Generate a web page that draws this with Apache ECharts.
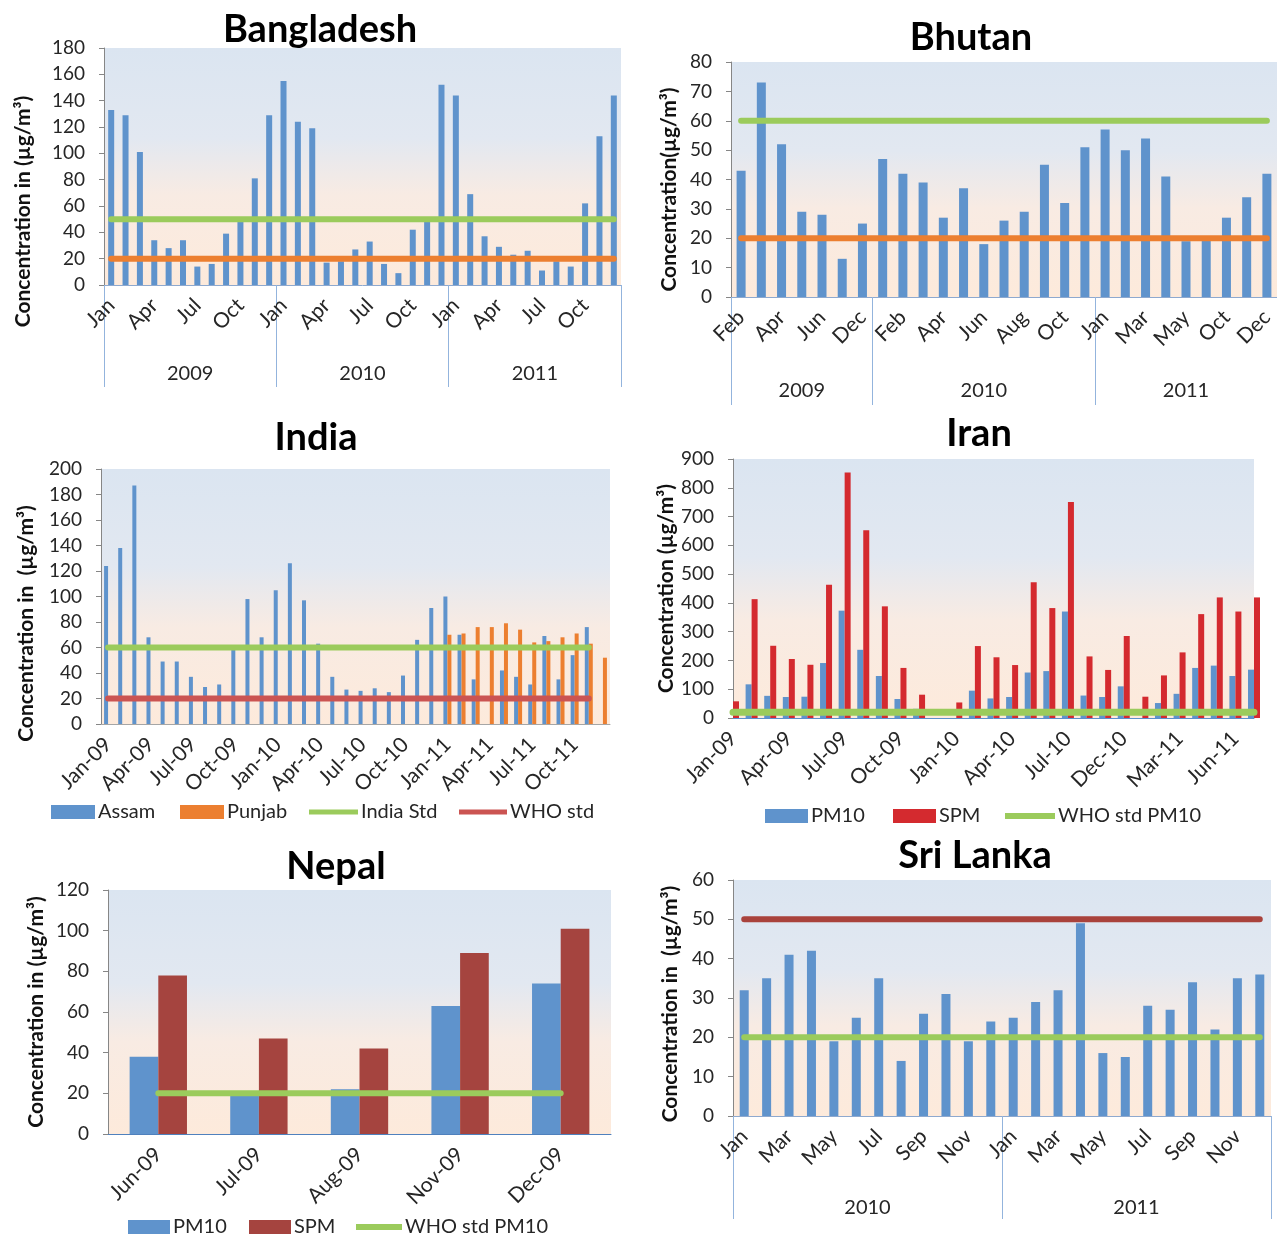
<!DOCTYPE html>
<html><head><meta charset="utf-8">
<script src="https://cdn.jsdelivr.net/npm/echarts@6/dist/echarts.min.js"></script>
<style>html,body{margin:0;padding:0;background:#fff}#c{width:1277px;height:1234px}</style>
</head><body><div id="c"></div>
<script>
// ---------------- DATA ----------------
const bdMonths = ['Jan','Feb','Mar','Apr','May','Jun','Jul','Aug','Sep','Oct','Nov','Dec','Jan','Feb','Mar','Apr','May','Jun','Jul','Aug','Sep','Oct','Nov','Dec','Jan','Feb','Mar','Apr','May','Jun','Jul','Aug','Sep','Oct','Nov','Dec'];
const bdYears = ['2009','2010','2011'];
const bdValues = [133,129,101,34,28,34,14,16,39,48,81,129,155,124,119,17,18,27,33,16,9,42,48,152,144,69,37,29,23,26,11,18,14,62,113,144];
const bdStdGreen = [50,50,50,50,50,50,50,50,50,50,50,50,50,50,50,50,50,50,50,50,50,50,50,50,50,50,50,50,50,50,50,50,50,50,50,50];
const bdStdOrange = [20,20,20,20,20,20,20,20,20,20,20,20,20,20,20,20,20,20,20,20,20,20,20,20,20,20,20,20,20,20,20,20,20,20,20,20];

const btMonths = ['Feb','Mar','Apr','May','Jun','Nov','Dec','Jan','Feb','Mar','Apr','May','Jun','Jul','Aug','Sep','Oct','Nov','Jan','Feb','Mar','Apr','May','Sep','Oct','Nov','Dec'];
const btYears = ['2009','2009','2009','2009','2009','2009','2009','2010','2010','2010','2010','2010','2010','2010','2010','2010','2010','2010','2011','2011','2011','2011','2011','2011','2011','2011','2011'];
const btValues = [43,73,52,29,28,13,25,47,42,39,27,37,18,26,29,45,32,51,57,50,54,41,19,20,27,34,42];
const btStdGreen = [60,60,60,60,60,60,60,60,60,60,60,60,60,60,60,60,60,60,60,60,60,60,60,60,60,60,60];
const btStdOrange = [20,20,20,20,20,20,20,20,20,20,20,20,20,20,20,20,20,20,20,20,20,20,20,20,20,20,20];

const inMonths = ['Jan-09','Feb-09','Mar-09','Apr-09','May-09','Jun-09','Jul-09','Aug-09','Sep-09','Oct-09','Nov-09','Dec-09','Jan-10','Feb-10','Mar-10','Apr-10','May-10','Jun-10','Jul-10','Aug-10','Sep-10','Oct-10','Nov-10','Dec-10','Jan-11','Feb-11','Mar-11','Apr-11','May-11','Jun-11','Jul-11','Aug-11','Sep-11','Oct-11','Nov-11','Dec-11'];
const inAssam = [124,138,187,68,49,49,37,29,31,59,98,68,105,126,97,63,37,27,26,28,25,38,66,91,100,70,35,null,42,37,31,69,35,54,76,null];
const inPunjab = [null,null,null,null,null,null,null,null,null,null,null,null,null,null,null,null,null,null,null,null,null,null,null,null,70,71,76,76,79,74,64,65,68,71,63,52];
const inIndiaStd = [60,60,60,60,60,60,60,60,60,60,60,60,60,60,60,60,60,60,60,60,60,60,60,60,60,60,60,60,60,60,60,60,60,60,60,null];
const inWhoStd = [20,20,20,20,20,20,20,20,20,20,20,20,20,20,20,20,20,20,20,20,20,20,20,20,20,20,20,20,20,20,20,20,20,20,20,null];

const irMonths = ['Jan-09','Feb-09','Mar-09','Apr-09','May-09','Jun-09','Jul-09','Aug-09','Sep-09','Oct-09','Nov-09','Dec-09','Jan-10','Feb-10','Mar-10','Apr-10','May-10','Jun-10','Jul-10','Oct-10','Nov-10','Dec-10','Jan-11','Feb-11','Mar-11','Apr-11','May-11','Jun-11','Jul-11'];
const irPM10 = [null,117,77,73,74,191,373,237,146,66,32,null,null,95,68,73,158,163,370,78,73,110,null,52,84,174,182,146,168];
const irSPM = [58,413,251,205,185,463,853,652,388,174,81,null,54,250,211,184,472,382,751,214,167,285,74,148,228,361,419,370,419];
const irWho = [20,20,20,20,20,20,20,20,20,20,20,20,20,20,20,20,20,20,20,20,20,20,20,20,20,20,20,20,20];

const npMonths = ['Jun-09','Jul-09','Aug-09','Nov-09','Dec-09'];
const npPM10 = [38,19,22,63,74];
const npSPM = [78,47,42,89,101];
const npWho = [20,20,20,20,20];

const slMonths = ['Jan','Feb','Mar','Apr','May','Jun','Jul','Aug','Sep','Oct','Nov','Dec','Jan','Feb','Mar','Apr','May','Jun','Jul','Aug','Sep','Oct','Nov','Dec'];
const slYears = ['2010','2011'];
const slValues = [32,35,41,42,19,25,35,14,26,31,19,24,25,29,32,49,16,15,28,27,34,22,35,36];
const slStdRed = [50,50,50,50,50,50,50,50,50,50,50,50,50,50,50,50,50,50,50,50,50,50,50,50];
const slStdGreen = [20,20,20,20,20,20,20,20,20,20,20,20,20,20,20,20,20,20,20,20,20,20,20,20];

// ---------------- STYLE ----------------
const FONT = 'Lato, "Open Sans", sans-serif';
const BLUE = '#5F93CC', ORANGE = '#EC7F30', GREEN = '#9BCB5C', RED_IN = '#CB5452',
      RED_IR = '#D42A2F', BROWN = '#A5443F', MAROON = '#A9423C';
const TXT = '#262626', AXIS = '#868686', YEARLINE = '#93B4DD';
const bg = {type:'linear', x:0, y:0, x2:0, y2:1, colorStops:[
  {offset:0, color:'#DBE5F1'}, {offset:0.38, color:'#E2E8F1'},
  {offset:0.62, color:'#F8EBE3'}, {offset:1, color:'#FDEADB'}]};

function grid(l, t, w, h){ return {left:l, top:t, width:w, height:h, show:true, backgroundColor:bg, borderWidth:0, containLabel:false}; }
function yAx(g, max, itv, name, gap, shiftDown){
  return {type:'value', gridIndex:g, min:0, max:max, interval:itv,
    name:name, nameLocation:'middle', nameGap:gap, nameRotate:90,
    nameTextStyle:{fontFamily:FONT, fontWeight:'bold', fontSize:21, color:'#111',
      padding:[0, 2*(shiftDown||0), 0, 0]},
    axisLine:{show:true, lineStyle:{color:AXIS}},
    axisTick:{show:true, length:5, lineStyle:{color:AXIS}},
    axisLabel:{fontFamily:FONT, fontSize:19, color:TXT, margin:19},
    splitLine:{show:false}};
}
function xMonth(g, data, itv, lineColor, bgap){
  return {type:'category', gridIndex:g, data:data, position:'bottom', boundaryGap:bgap!==false,
    axisLine:{show:true, lineStyle:{color:lineColor}}, axisTick:{show:false},
    axisLabel:{interval:itv, rotate:45, fontFamily:FONT, fontSize:21, color:TXT, margin:17},
    splitLine:{show:false}};
}
function xYear(g, data, tickLen, margin, tickItv, labelItv){
  return {type:'category', gridIndex:g, data:data, position:'bottom',
    axisLine:{show:false},
    axisTick:{show:true, length:tickLen, interval:tickItv===undefined?0:tickItv, lineStyle:{color:YEARLINE}},
    axisLabel:{interval:labelItv===undefined?0:labelItv, fontFamily:FONT, fontSize:20, color:TXT, margin:margin},
    splitLine:{show:false}};
}
function title(text, cx, top){
  return {text:text, left:cx, top:top, textAlign:'center', padding:0,
    textStyle:{fontFamily:FONT, fontWeight:'bold', fontSize:38, color:'#000'}};
}
function lg(name, left, top, w, h){
  return {data:[{name:name, icon:'rect'}], left:left, top:top, padding:0, itemWidth:w, itemHeight:h, itemGap:0,
    selectedMode:false, formatter:function(n){return n.replace(/^NP /,'');},
    textStyle:{fontFamily:FONT, fontSize:20, color:TXT, padding:[0,0,0,-2]}};
}
function bar(name, x, y, data, color, extra){
  return Object.assign({name:name, type:'bar', xAxisIndex:x, yAxisIndex:y, data:data,
    itemStyle:{color:color}, emphasis:{disabled:true}, animation:false}, extra||{});
}
function line(name, x, y, data, color, w){
  return {name:name, type:'line', xAxisIndex:x, yAxisIndex:y, data:data, symbol:'none',
    lineStyle:{color:color, width:w||6, cap:'round'}, itemStyle:{color:color}, z:5,
    emphasis:{disabled:true}, animation:false};
}

const option = {
  animation:false,
  backgroundColor:'#fff',
  title:[
    title('Bangladesh', 320, 11), title('Bhutan', 971, 19), title('India', 316, 419),
    title('Iran', 979, 415), title('Nepal', 336, 848), title('Sri Lanka', 975, 837)
  ],
  legend:[
    lg('Assam', 51, 802, 44, 14), lg('Punjab', 180, 802, 44, 14), lg('India Std', 309, 802, 49, 5), lg('WHO std', 459, 802, 48, 5),
    lg('PM10', 765, 806, 43, 14), lg('SPM', 893, 806, 43, 14), lg('WHO std PM10', 1005, 806, 50, 6),
    lg('NP PM10', 128, 1217, 42, 14), lg('NP SPM', 249, 1217, 42, 14), lg('NP WHO std PM10', 356, 1217, 46, 6)
  ],
  grid:[
    grid(104, 48, 517, 237),
    grid(731, 62, 551, 235),
    grid(101, 469, 509, 255),
    grid(733, 459, 521, 259),
    grid(108, 890, 503, 244),
    grid(733, 880, 538, 236)
  ],
  xAxis:[
    xMonth(0, bdMonths, 2, '#8EA9CF'),                 //0
    xYear(0, bdYears, 102, 79),                         //1
    xMonth(1, btMonths, 1, '#8EA9CF'),                 //2
    xYear(1, btYears, 108, 84,
      function(i){return i===0||i===7||i===18;},
      function(i){return i===3||i===12||i===22;}),      //3
    xMonth(2, inMonths, 2, '#A6A6A6'),                 //4
    xMonth(3, irMonths, 2, '#5B8FCB', false),          //5
    xMonth(4, npMonths, 0, '#4F81BD'),                 //6
    xMonth(5, slMonths, 1, '#8EA9CF'),                 //7
    xYear(5, slYears, 103, 82)                          //8
  ],
  yAxis:[
    yAx(0, 180, 20, 'Concentration in (µg/m³)', 70, 45),
    yAx(1, 80, 10, 'Concentration(µg/m³)', 51, 10),
    yAx(2, 200, 20, 'Concentration in  (µg/m³)', 64, 27),
    yAx(3, 900, 100, 'Concentration (µg/m³)', 52, 0),
    yAx(4, 120, 20, 'Concentration in (µg/m³)', 61, 0),
    yAx(5, 60, 10, 'Concentration in  (µg/m³)', 52, 6)
  ],
  series:[
    bar('Bangladesh', 0, 0, bdValues, BLUE, {barWidth:6}),
    line('BD std 50', 0, 0, bdStdGreen, GREEN),
    line('BD std 20', 0, 0, bdStdOrange, ORANGE),

    bar('Bhutan', 2, 1, btValues, BLUE, {barWidth:9}),
    line('BT std 60', 2, 1, btStdGreen, GREEN),
    line('BT std 20', 2, 1, btStdOrange, ORANGE),

    bar('Assam', 4, 2, inAssam, BLUE, {barWidth:4, barGap:'0%'}),
    bar('Punjab', 4, 2, inPunjab, ORANGE, {barWidth:4, barGap:'0%'}),
    line('India Std', 4, 2, inIndiaStd, GREEN),
    line('WHO std', 4, 2, inWhoStd, RED_IN),

    bar('PM10', 5, 3, irPM10, BLUE, {barWidth:6, barGap:'0%', clip:true}),
    bar('SPM', 5, 3, irSPM, RED_IR, {barWidth:6, barGap:'0%', clip:true}),
    line('WHO std PM10', 5, 3, irWho, GREEN, 7),

    bar('NP PM10', 6, 4, npPM10, BLUE, {barGap:'0%', barCategoryGap:'43%'}),
    bar('NP SPM', 6, 4, npSPM, BROWN, {barGap:'0%', barCategoryGap:'43%'}),
    line('NP WHO std PM10', 6, 4, npWho, GREEN),

    bar('Sri Lanka', 7, 5, slValues, BLUE, {barWidth:9}),
    line('SL std 50', 7, 5, slStdRed, MAROON),
    line('SL std 20', 7, 5, slStdGreen, GREEN)
  ]
};
const chart = echarts.init(document.getElementById('c'), null, {renderer:'canvas', width:1277, height:1234});
chart.setOption(option);
</script>
</body></html>
